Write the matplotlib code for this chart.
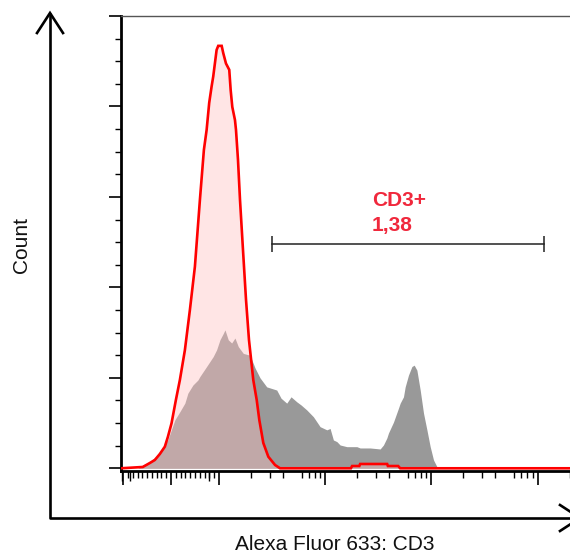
import matplotlib
matplotlib.use("Agg")
import matplotlib.pyplot as plt
from matplotlib.ticker import FixedLocator, NullFormatter

# ---- data (fluorescence intensity vs. count) ----
ctrl_x = [-105, -59.1, -44.4, -33.9, -23.5, -13.0, -6.7, 1.0, 10.1, 18.4,
          28.9, 39.4, 49.9, 60.4, 68.7, 74.4, 79.8, 84.8, 88.2, 91.7,
          95.3, 98.7, 106.3, 110.0, 116.7, 125.3, 129.2, 133.8, 141.8, 145.0,
          151.4, 158.1, 168.7, 180.1, 192.1, 211.0, 227.2, 240.3, 262.1, 292.2,
          337.9, 376.6, 1750, 1797, 2100, 2137, 3840, 3900, 4875, 5093,
          262143]
ctrl_y = [0, 0.29, 1.17, 1.84, 3.16, 4.78, 6.92, 9.95, 15.1, 19.5,
          26.1, 35.0, 44.6, 59.4, 70.4, 74.8, 80.8, 84.4, 86.6, 89.5,
          92.5, 93.4, 93.4, 91.8, 89.5, 88.1, 83.6, 79.9, 77.0, 74.8,
          68.2, 59.4, 48.3, 37.3, 28.4, 19.5, 15.1, 10.7, 5.6, 2.56,
          0.73, 0, 0, 0.5, 0.5, 0.95, 0.95, 0.5, 0.5, 0,
          0]

samp_x = [-105, -69.5, -59.1, -44.4, -27.6, -6.7, 7.96, 18.4, 28.9, 35.2,
          45.7, 56.1, 60.4, 74.4, 88.2, 95.3, 102.4, 110.0, 114.2, 122.6,
          132.0, 141.8, 152.4, 169.8, 196.4, 218.9, 244.0, 282.2, 350.5, 384.9,
          435.5, 478.2, 541.2, 593.9, 672.2, 775.7, 897.4, 1038, 1115, 1197,
          1290, 1385, 1602, 1990, 2137, 2656, 3299, 3544, 3815, 3951,
          4403, 4909, 5093, 5470, 5675, 6097, 6565, 6901, 7316, 7861,
          8444, 9090, 9763, 10489, 11290, 12131, 262143]
samp_y = [0, 0, 0.73, 1.46, 2.94, 6.26, 10.7, 12.5, 14.4, 16.6,
          18.4, 19.5, 20.3, 22.5, 24.7, 26.2, 28.4, 29.8, 30.6, 28.4,
          27.7, 28.8, 26.9, 25.4, 25.0, 22.2, 20.0, 18.0, 17.3, 15.5,
          14.4, 15.8, 14.7, 14.0, 12.9, 11.4, 9.2, 8.5, 8.8, 6.26,
          5.9, 5.15, 4.78, 4.78, 4.49, 4.49, 4.27, 5.15, 6.7, 7.8,
          10.2, 13.3, 14.4, 15.8, 18.0, 20.6, 22.5, 22.8, 21.7, 17.3,
          12.2, 8.5, 4.78, 1.84, 0.35, 0, 0]

gate_x = [316.6, 115900]
gate_y = 49.6
gate_name = "CD3+"
gate_value = "1,38"

x_major = [-100, 0, 100, 1000, 10000, 100000]
x_mid = [500, 5000, 50000]
x_minor = ([-90, -80, -70, -60, -50, -40, -30, -20, -10,
            10, 20, 30, 40, 50, 60, 70, 80, 90]
           + [m * 10 ** e for e in (2, 3, 4) for m in (2, 3, 4, 6, 7, 8, 9)]
           + [200000])

xlabel = "Alexa Fluor 633: CD3"
ylabel = "Count"

# ---- figure ----
W, H = 570, 553
fig = plt.figure(figsize=(W / 100, H / 100), dpi=100)
fig.patch.set_facecolor("white")

left_px, right_px, top_px, bot_px = 121, 582, 16, 471
ax = fig.add_axes([left_px / W, 1 - bot_px / H,
                   (right_px - left_px) / W, (bot_px - top_px) / H])

ax.set_xscale("symlog", linthresh=100, linscale=0.405, base=10)
ax.set_xlim(-105, 262143)
ax.set_ylim(-0.6, 100)

ax.fill_between(samp_x, samp_y, 0, color="#999999", lw=0, zorder=2)
ax.fill_between(ctrl_x, ctrl_y, 0, color="#ffbfbf", alpha=0.40, lw=0, zorder=3)
ax.plot(ctrl_x, ctrl_y, color="#ff0000", lw=1.9, zorder=4,
        solid_joinstyle="miter")

# gate
ax.plot(gate_x, [gate_y, gate_y], color="#222222", lw=1.1, zorder=5)
ax.vlines(gate_x, gate_y - 1.8, gate_y + 1.8, color="#222222", lw=1.1, zorder=5)

# axes styling
for s in ("left", "bottom"):
    ax.spines[s].set_linewidth(2.0)
    ax.spines[s].set_color("black")
ax.spines["top"].set_linewidth(1.0)
ax.spines["top"].set_color("#555555")
ax.spines["right"].set_visible(False)

ax.xaxis.set_major_locator(FixedLocator(x_major))
ax.xaxis.set_minor_locator(FixedLocator(x_minor))
ax.xaxis.set_major_formatter(NullFormatter())
ax.xaxis.set_minor_formatter(NullFormatter())
ax.yaxis.set_major_locator(FixedLocator([0, 20, 40, 60, 80, 100]))
ax.yaxis.set_minor_locator(FixedLocator([v for v in range(5, 100, 5) if v % 20]))
ax.yaxis.set_major_formatter(NullFormatter())
ax.yaxis.set_minor_formatter(NullFormatter())
ax.tick_params(axis="x", which="major", direction="out", length=10, width=1.2, color="black")
ax.tick_params(axis="x", which="minor", direction="out", length=5, width=1.0, color="black")
ax.tick_params(axis="y", which="major", direction="out", length=8.6, width=1.2, color="black")
ax.tick_params(axis="y", which="minor", direction="out", length=4.3, width=1.0, color="black")

sec = ax.secondary_xaxis("bottom")
sec.set_xticks(x_mid)
sec.tick_params(direction="out", length=7.5, width=1.0, labelbottom=False, color="black")
sec.spines["bottom"].set_visible(False)

# gate text
txt_color = "#f0283c"
fig.text(372 / W, 1 - 200 / H, gate_name, color=txt_color, fontsize=15,
         fontweight="bold", family="Liberation Sans", ha="left", va="center")
fig.text(372 / W, 1 - 225 / H, gate_value, color=txt_color, fontsize=15,
         fontweight="bold", family="Liberation Sans", ha="left", va="center")

# outer arrow axes (decoration)
ov = fig.add_axes([0, 0, 1, 1])
ov.set_xlim(0, W)
ov.set_ylim(H, 0)
ov.axis("off")
ov.plot([50, 50, 580], [13, 518, 518], color="black", lw=1.9,
        solid_joinstyle="round", solid_capstyle="butt")
ov.plot([37, 50, 63], [33, 13, 33], color="black", lw=1.9,
        solid_joinstyle="miter")
ov.plot([560, 580, 560], [505, 518, 531], color="black", lw=1.9,
        solid_joinstyle="miter")

fig.text(22 / W, 1 - 245 / H, ylabel, rotation=90, fontsize=15,
         family="Liberation Sans", ha="center", va="center", color="#111111")
fig.text(335 / W, 1 - 545 / H, xlabel, fontsize=15,
         family="Liberation Sans", ha="center", va="center", color="#111111")

fig.savefig("out.png", dpi=100)
